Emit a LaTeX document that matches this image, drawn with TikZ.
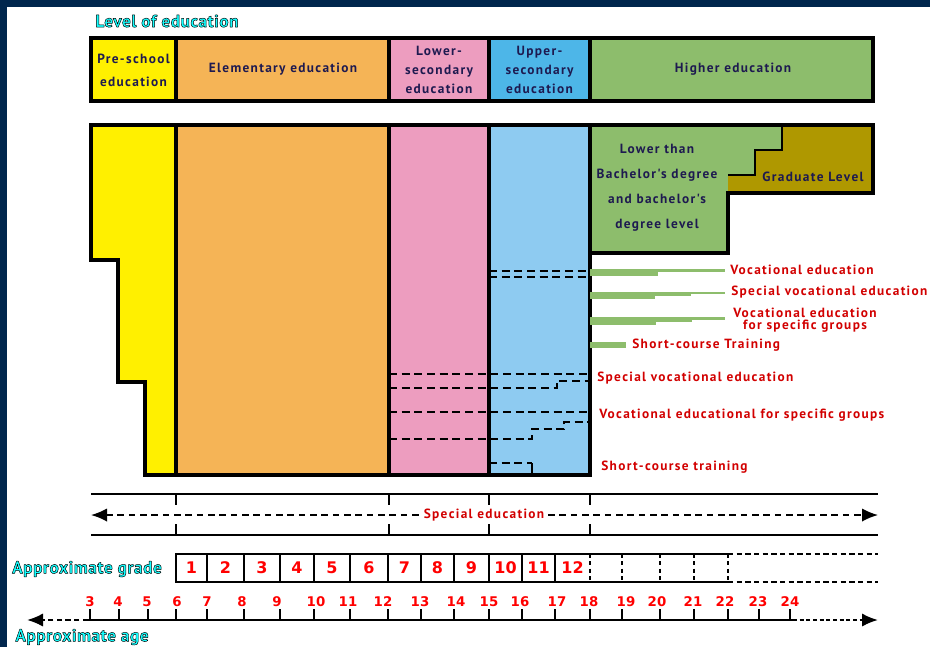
\documentclass[tikz,border=0pt]{standalone}
\usepackage{fontspec}
\usetikzlibrary{arrows.meta}
\setmainfont{PT Sans}
\newfontfamily\spfont[LetterSpace=10]{PT Sans}
\newfontfamily\headfont[LetterSpace=3]{PT Sans}
\newfontfamily\numfont{DejaVu Sans}
\definecolor{navy}{RGB}{0,38,77}
\definecolor{cyellow}{RGB}{255,240,0}
\definecolor{corange}{RGB}{245,180,86}
\definecolor{cpink}{RGB}{237,157,191}
\definecolor{cbluehdr}{RGB}{77,182,232}
\definecolor{cblue}{RGB}{142,203,241}
\definecolor{cgreen}{RGB}{141,189,108}
\definecolor{colive}{RGB}{175,152,0}
\definecolor{ctext}{RGB}{30,26,80}
\definecolor{cred}{RGB}{210,0,0}
\definecolor{cnum}{RGB}{255,0,0}
\definecolor{ccyan}{RGB}{20,255,255}
\newcommand\cyantxt[1]{{\color{ccyan}\special{pdf:literal direct 0 0 0 RG 0.35 w 1 j 2 Tr}#1\special{pdf:literal direct 0 Tr}}}
\begin{document}
\begin{tikzpicture}[x=0.75pt,y=-0.75pt,
  thickline/.style={line width=2.3pt, line join=miter},
  hdr/.style={font=\spfont\bfseries\fontsize{10}{17.25}\selectfont, text=ctext, align=center, inner sep=0pt},
  redlbl/.style={font=\spfont\bfseries\fontsize{10}{9}\selectfont, text=cred, inner sep=0pt},
  dsh/.style={line width=1.5pt, dash pattern=on 6pt off 3.5pt},
  gnum/.style={font=\numfont\bfseries\fontsize{12}{14}\selectfont, text=cnum, inner sep=0pt},
  anum/.style={font=\numfont\bfseries\fontsize{10}{12}\selectfont, text=cnum, inner sep=0pt},
  cyanhd/.style={font=\headfont\bfseries\fontsize{13}{14}\selectfont, inner sep=0pt},
  axis/.style={line width=1.6pt},
  tickl/.style={line width=1.2pt},
  gline/.style={line width=1.1pt},
  gdash/.style={line width=1.1pt, dash pattern=on 3pt off 2.5pt},
  tipr/.style={-{Latex[length=12pt,width=10pt]}}
]
\useasboundingbox (0,0) rectangle (930,647);
\fill[navy] (0,0) rectangle (930,647);
\fill[white] (7,7) rectangle (930,647);

% title
\node[cyanhd] (lvl) at (167,21) {\cyantxt{Level of education}};

% header row
\begin{scope}[thickline]
\filldraw[fill=cyellow] (91,38) rectangle (176,101);
\filldraw[fill=corange] (176,38) rectangle (389,101);
\filldraw[fill=cpink] (389,38) rectangle (489,101);
\filldraw[fill=cbluehdr] (489,38) rectangle (590,101);
\filldraw[fill=cgreen] (590,38) rectangle (873,101);
\end{scope}
\node[hdr] (hpre) at (133.5,70) {Pre-school\\education};
\node[hdr] (helem) at (283,69) {Elementary education};
\node[hdr, font=\spfont\bfseries\fontsize{10}{14.25}\selectfont] (hlow) at (439,70) {Lower-\\secondary\\education};
\node[hdr, font=\spfont\bfseries\fontsize{10}{14.25}\selectfont] (hupp) at (539.5,70) {Upper-\\secondary\\education};
\node[hdr] (hhigh) at (733,69) {Higher education};

% main block fills
\fill[cyellow] (91,125) -- (176,125) -- (176,475) -- (145,475) -- (145,382) -- (118,382) -- (118,260) -- (91,260) -- cycle;
\fill[corange] (176,125) rectangle (389,475);
\fill[cpink] (389,125) rectangle (489,475);
\fill[cblue] (489,125) rectangle (590,475);
\fill[cgreen] (590,125) -- (782,125) -- (782,150) -- (755,150) -- (755,175) -- (728,175) -- (728,253) -- (590,253) -- cycle;
\fill[colive] (782,125) -- (873,125) -- (873,193) -- (728,193) -- (728,175) -- (755,175) -- (755,150) -- (782,150) -- cycle;
\draw[line width=1pt] (782,125) -- (782,150) -- (755,150) -- (755,175) -- (728,175);

% dashed lines
\draw[dsh] (489,271) -- (590,271);
\draw[dsh] (489,277) -- (590,277);
\draw[dsh] (389,374) -- (590,374);
\draw[dsh] (389,388) -- (557,388) -- (557,381) -- (590,381);
\draw[dsh] (389,412) -- (590,412);
\draw[dsh] (389,439) -- (532,439) -- (532,429) -- (564,429) -- (564,422) -- (590,422);
\draw[dsh] (489,463) -- (532,463);
\draw[line width=1.5pt] (532,463) -- (532,475);

% main block outlines
\begin{scope}[thickline]
\draw (91,125) -- (176,125) -- (176,475) -- (145,475) -- (145,382) -- (118,382) -- (118,260) -- (91,260) -- cycle;
\draw (176,125) rectangle (389,475);
\draw (389,125) rectangle (489,475);
\draw (489,125) rectangle (590,475);
\draw (590,125) -- (873,125) -- (873,193) -- (728,193) -- (728,253) -- (590,253);
\end{scope}

\node[hdr, font=\spfont\bfseries\fontsize{10}{18.75}\selectfont] (lower) at (657,188) {Lower than\\Bachelor's degree\\and bachelor's\\degree level};
\node[hdr] (grad) at (813,177) {Graduate Level};

% green bars
\fill[cgreen] (590,269) rectangle (658,276);
\fill[cgreen] (658,269) rectangle (725,272);
\fill[cgreen] (590,292) rectangle (655,299);
\fill[cgreen] (655,292) rectangle (691,296);
\fill[cgreen] (691,292) rectangle (725,294);
\fill[cgreen] (590,317) rectangle (656,325);
\fill[cgreen] (656,317) rectangle (692,322);
\fill[cgreen] (692,317) rectangle (725,320);
\fill[cgreen] (590,342) rectangle (626,348);

% red labels
\node[redlbl, anchor=west] (voc1) at (730,270) {Vocational education};
\node[redlbl, anchor=west] (voc2) at (731,292) {Special vocational education};
\node[redlbl, align=center] (voc3) at (805,320) {Vocational education\\for specific groups};
\node[redlbl, anchor=west] (voc4) at (632,345) {Short-course Training};
\node[redlbl, anchor=west] (svoc) at (597,378) {Special vocational education};
\node[redlbl, anchor=west] (vspec) at (599,415) {Vocational educational for specific groups};
\node[redlbl, anchor=west] (short) at (601,467) {Short-course training};

% special education band
\draw[line width=2pt] (91,494) -- (878,494);
\draw[line width=2pt] (91,535) -- (878,535);
\foreach \x in {176,389,489,590} {
  \draw[tickl] (\x,494) -- (\x,505);
  \draw[tickl] (\x,524) -- (\x,535);
}
\coordinate (sel) at (91,515);
\coordinate (ser) at (878,515);
\draw[line width=1.3pt, dash pattern=on 5pt off 3.5pt, {Latex[length=12pt,width=10pt]}-{Latex[length=12pt,width=10pt]}] (sel) -- (ser);
\node[redlbl, fill=white, inner sep=1.5pt] (sped) at (484,515) {Special education};

% grade row
\node[cyanhd] (agrade) at (87,569) {\cyantxt{Approximate grade}};
\draw[gline] (728,554) -- (176,554) -- (176,582) -- (728,582);
\foreach \x in {207,244,280,314,350,388,421,454,489,522,555} {
  \draw[gline] (\x,554) -- (\x,582);
}
\foreach \x in {590,622,660,694,728} {
  \draw[gdash] (\x,554) -- (\x,582);
}
\draw[gline, dash pattern=on 4pt off 2.5pt] (728,554) -- (878,554);
\draw[gline, dash pattern=on 4pt off 2.5pt] (728,582) -- (878,582);
\foreach \n/\x in {1/191.5,2/225.5,3/262,4/297,5/332,6/369,7/404.5,8/437.5,9/471.5,10/505.5,11/538.5,12/572.5} {
  \node[gnum] (g\n) at (\x,568) {\n};
}

% age axis
\node[cyanhd] (aage) at (82,637) {\cyantxt{Approximate age}};
\coordinate (al) at (27,620);
\coordinate (a0) at (88,620);
\coordinate (a1) at (793,620);
\coordinate (ar) at (878,620);
\draw[axis] (a0) -- (a1);
\draw[axis, dash pattern=on 4pt off 2.5pt, tipr] (a0) -- (al);
\draw[axis, dash pattern=on 3pt off 2pt, tipr] (a1) -- (ar);
\foreach \a/\x/\lx in {3/90/90,4/119/118,5/148/147,6/176/177,7/207/207,8/244/242,9/280/277,10/314/316,11/350/348,12/388/383,13/421/420,14/454/456,15/489/489,16/522/520,17/555/557,18/590/589,19/622/626,20/660/657,21/694/693,22/728/725,23/759/758,24/790/790} {
  \draw[tickl] (\x,609) -- (\x,620);
  \node[anum] (age\a) at (\lx,602) {\a};
}
\end{tikzpicture}
\end{document}
